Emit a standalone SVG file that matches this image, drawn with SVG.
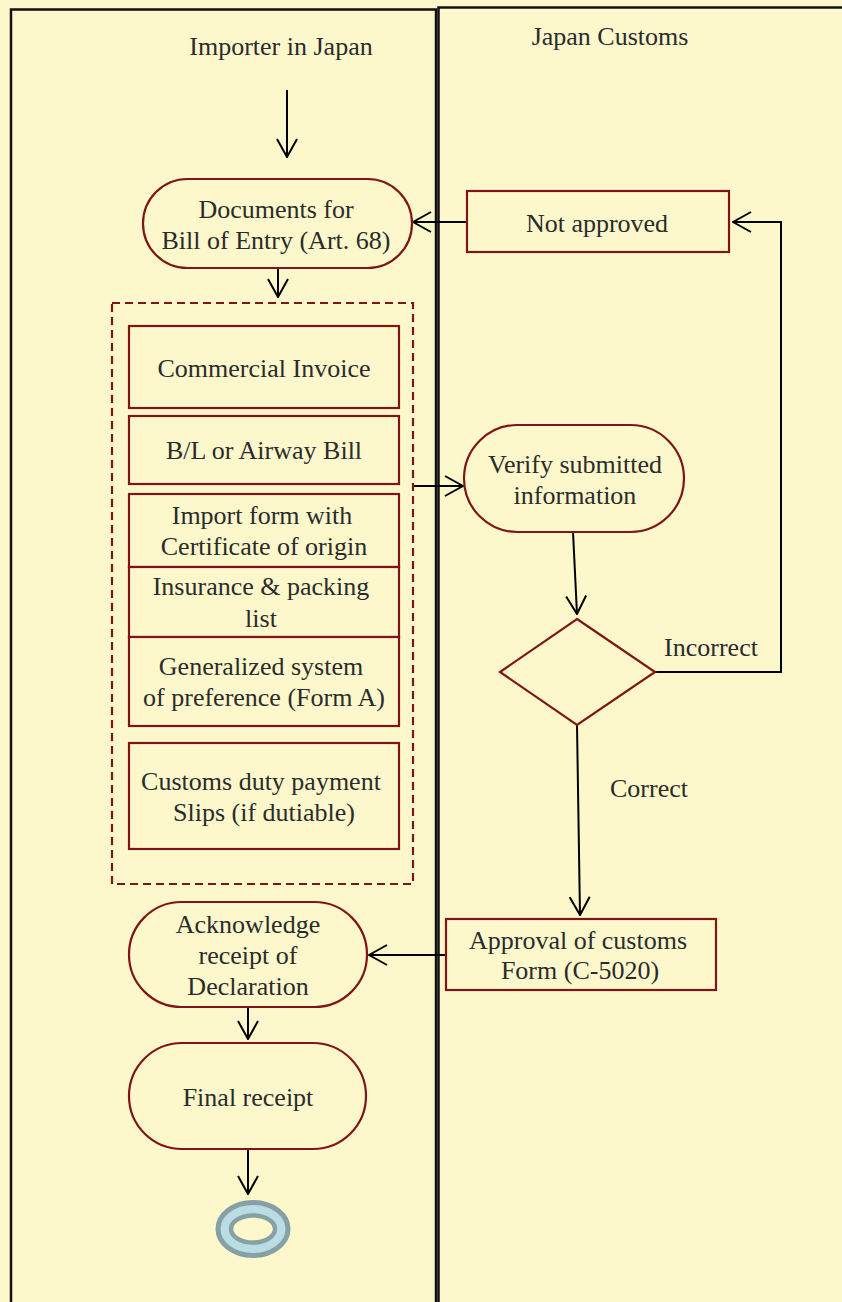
<svg xmlns="http://www.w3.org/2000/svg" width="842" height="1302" viewBox="0 0 842 1302">
<defs>
<style>
.lane{fill:#fcf8cc;stroke:#111;stroke-width:2.5}
.node{fill:#fcf8cc;stroke:#7f1518;stroke-width:2.2}
.group{fill:none;stroke:#7f1518;stroke-width:2.2;stroke-dasharray:8 5}
.t{font-family:"Liberation Serif","Times New Roman",serif;font-size:26px;fill:#2b2b2b;text-anchor:middle}
.c{fill:none;stroke:#000;stroke-width:2;marker-end:url(#arr)}
</style>
<marker id="arr" viewBox="0 0 20 22" refX="19" refY="11" markerWidth="20" markerHeight="22" markerUnits="userSpaceOnUse" orient="auto">
<path d="M1,1 L19,11 L1,21" fill="none" stroke="#000" stroke-width="2"/>
</marker>
</defs>
<rect x="0" y="0" width="842" height="1302" fill="#fcf8cc"/>
<g id="lane-importer">
<rect class="lane" x="11" y="9.5" width="425" height="1310"/>
<text class="t" x="281" y="55">Importer in Japan</text>
</g>
<g id="lane-customs">
<rect class="lane" x="438.5" y="7.5" width="420" height="1310"/>
<text class="t" x="610" y="45">Japan Customs</text>
</g>
<g id="connectors">
<path class="c" d="M287,90 L287,157"/>
<path class="c" d="M278,268 L278,297"/>
<path class="c" d="M467,222 L413,222"/>
<path class="c" d="M412,486 L463,486"/>
<path class="c" d="M573,532 L577,614"/>
<path class="c" d="M655,672 L781,672 L781,222 L733,222"/>
<path class="c" d="M577,725 L580,915"/>
<path class="c" d="M446,955 L369,955"/>
<path class="c" d="M248,1007 L248,1039"/>
<path class="c" d="M248,1149 L248,1194"/>
</g>
<g id="documents">
<rect class="node" x="143" y="179" width="269" height="89" rx="44.5"/>
<text class="t" x="276" y="218">Documents for</text>
<text class="t" x="276" y="249">Bill of Entry (Art. 68)</text>
</g>
<g id="document-set">
<rect class="group" x="112" y="303" width="301" height="581"/>
</g>
<g id="commercial-invoice">
<rect class="node" x="129" y="326" width="270" height="82"/>
<text class="t" x="264" y="377">Commercial Invoice</text>
</g>
<g id="bl-airway">
<rect class="node" x="129" y="416" width="270" height="68"/>
<text class="t" x="264" y="459">B/L or Airway Bill</text>
</g>
<g id="import-form">
<rect class="node" x="129" y="494" width="270" height="73"/>
<text class="t" x="262" y="524">Import form with</text>
<text class="t" x="264" y="555">Certificate of origin</text>
</g>
<g id="insurance">
<rect class="node" x="129" y="567" width="270" height="70"/>
<text class="t" x="261" y="595">Insurance &amp; packing</text>
<text class="t" x="261" y="627">list</text>
</g>
<g id="gsp">
<rect class="node" x="129" y="637" width="270" height="89"/>
<text class="t" x="261" y="675">Generalized system</text>
<text class="t" x="264" y="706">of preference (Form A)</text>
</g>
<g id="duty-slips">
<rect class="node" x="129" y="743" width="270" height="106"/>
<text class="t" x="261" y="790">Customs duty payment</text>
<text class="t" x="264" y="821">Slips (if dutiable)</text>
</g>
<g id="not-approved">
<rect class="node" x="467" y="191" width="262" height="61"/>
<text class="t" x="597" y="232">Not approved</text>
</g>
<g id="verify">
<rect class="node" x="464" y="425" width="220" height="107" rx="53.5"/>
<text class="t" x="575" y="473">Verify submitted</text>
<text class="t" x="575" y="504">information</text>
</g>
<g id="decision">
<path class="node" d="M577,619 L655,672 L577,725 L500,672 Z"/>
<text class="t" x="711" y="656">Incorrect</text>
<text class="t" x="649" y="797">Correct</text>
</g>
<g id="approval">
<rect class="node" x="446" y="919" width="270" height="71"/>
<text class="t" x="578" y="949">Approval of customs</text>
<text class="t" x="580" y="979">Form (C-5020)</text>
</g>
<g id="acknowledge">
<rect class="node" x="129" y="902" width="238" height="105" rx="52.5"/>
<text class="t" x="248" y="933">Acknowledge</text>
<text class="t" x="248" y="964">receipt of</text>
<text class="t" x="248" y="995">Declaration</text>
</g>
<g id="final-receipt">
<rect class="node" x="129" y="1043" width="237" height="106" rx="53"/>
<text class="t" x="248" y="1106">Final receipt</text>
</g>
<g id="end">
<ellipse cx="253" cy="1229" rx="35" ry="26.5" fill="#b9dde3" stroke="#86a0a6" stroke-width="5"/>
<ellipse cx="253" cy="1229" rx="22" ry="13.5" fill="#fcf8cc" stroke="#86a0a6" stroke-width="4.5"/>
</g>
</svg>
